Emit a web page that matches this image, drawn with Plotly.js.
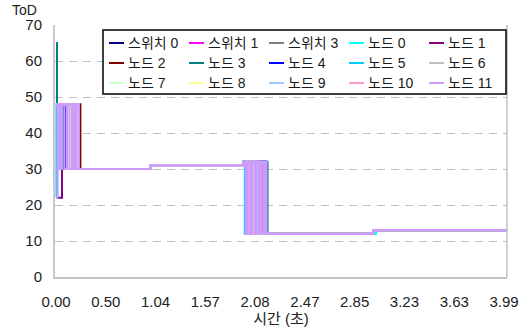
<!DOCTYPE html>
<html>
<head>
<meta charset="utf-8">
<script src="https://cdn.plot.ly/plotly-3.0.1.min.js"></script>
<style>html,body{margin:0;padding:0;background:#fff;}#chart{width:527px;height:330px;}</style>
</head>
<body>
<div id="chart"></div>
<script>
// Category positions on the x axis and their time labels (seconds)
const tickPos  = [0, 1, 2, 3, 4, 5, 6, 7, 8, 9];
const tickText = ['0.00', '0.50', '1.04', '1.57', '2.08', '2.47', '2.85', '3.23', '3.63', '3.99'];

const seriesNames  = ['스위치 0', '스위치 1', '스위치 3', '노드 0', '노드 1', '노드 2', '노드 3', '노드 4',
                      '노드 5', '노드 6', '노드 7', '노드 8', '노드 9', '노드 10', '노드 11'];
const seriesColors = ['#000080', '#FF00FF', '#808080', '#00FFFF', '#800080', '#800000', '#008080', '#0000FF',
                      '#00CCFF', '#C0C0C0', '#CCFFCC', '#FFFF99', '#99CCFF', '#FF99CC', '#CC99FF'];

// ToD change points per series (x = category position, value holds until next point)
const x_sw0 = [0, 0.02, 0.11, 0.14, 0.22, 0.25, 0.31, 1.89, 3.77, 3.93, 3.97, 4.10, 4.13, 4.21, 6.37, 9.06];
const y_sw0 = [24, 48, 30, 48, 30, 48, 30, 31, 32, 12, 32, 12, 32, 12, 13, 13];
const x_sw1 = [0, 0.16, 0.19, 0.27, 1.89, 3.77, 3.87, 3.90, 4.05, 6.37, 9.06];
const y_sw1 = [48, 30, 48, 30, 31, 32, 12, 32, 12, 13, 13];
const x_sw3 = [0, 0.07, 0.10, 0.19, 0.22, 0.33, 1.89, 3.78, 3.81, 3.84, 3.95, 3.98, 4.12, 4.15, 4.19, 6.37, 9.06];
const y_sw3 = [48, 30, 48, 30, 48, 30, 31, 32, 12, 32, 12, 32, 12, 32, 12, 13, 13];
const x_n0  = [0, 0.03, 0.27, 0.30, 0.36, 1.89, 3.76, 3.79, 3.82, 4.01, 6.43, 9.06];
const y_n0  = [22, 48, 30, 48, 30, 31, 32, 12, 32, 12, 13, 13];
const x_n1  = [0, 0.12, 0.21, 0.24, 0.28, 1.89, 3.77, 3.91, 3.94, 4.09, 6.37, 9.06];
const y_n1  = [22, 48, 30, 48, 30, 31, 32, 12, 32, 12, 13, 13];
const x_n2  = [0, 0.18, 0.21, 0.40, 0.44, 0.49, 1.89, 3.78, 4.00, 4.03, 4.14, 6.37, 9.06];
const y_n2  = [48, 30, 48, 30, 48, 30, 31, 32, 12, 32, 12, 13, 13];
const x_n3  = [0, 0.02, 0.13, 0.15, 0.34, 0.36, 0.42, 1.89, 3.78, 4.07, 4.10, 4.25, 6.37, 9.06];
const y_n3  = [65, 48, 30, 48, 30, 48, 30, 31, 32, 12, 32, 12, 13, 13];
const x_n4  = [0, 0.20, 0.23, 0.26, 0.29, 0.32, 1.89, 3.78, 3.88, 3.91, 4.02, 4.05, 4.22, 6.37, 9.06];
const y_n4  = [48, 30, 48, 30, 48, 30, 31, 32, 12, 32, 12, 32, 12, 13, 13];
const x_n5  = [0, 0.01, 0.05, 0.08, 0.29, 1.89, 3.77, 3.80, 3.84, 3.99, 6.37, 9.06];
const y_n5  = [22, 48, 30, 48, 30, 31, 32, 12, 32, 12, 13, 13];
const x_n6  = [0, 0.09, 0.12, 0.38, 1.89, 3.78, 3.96, 3.99, 4.11, 6.37, 9.06];
const y_n6  = [48, 30, 48, 30, 31, 32, 12, 32, 12, 13, 13];
const x_n7  = [0, 0.25, 0.28, 0.45, 1.89, 3.79, 3.86, 3.89, 4.02, 6.37, 9.06];
const y_n7  = [48, 30, 48, 30, 31, 32, 12, 32, 12, 13, 13];
const x_n8  = [0, 0.31, 0.34, 0.43, 1.89, 3.79, 3.92, 3.95, 4.06, 6.37, 9.06];
const y_n8  = [48, 30, 48, 30, 31, 32, 12, 32, 12, 13, 13];
const x_n9  = [0, 0.06, 0.09, 0.39, 1.89, 3.78, 4.04, 4.07, 4.17, 6.37, 9.06];
const y_n9  = [48, 30, 48, 30, 31, 32, 12, 32, 12, 13, 13];
const x_n10 = [0, 0.33, 0.36, 0.41, 1.89, 3.79, 3.83, 3.86, 4.13, 6.37, 9.06];
const y_n10 = [48, 30, 48, 30, 31, 32, 12, 32, 12, 13, 13];
const x_n11 = [0, 0.03, 0.08, 0.12, 0.17, 0.22, 0.27, 0.32, 0.37, 0.41, 0.46,
               1.89, 3.76, 3.81, 3.85, 3.90, 3.94, 3.99, 4.03, 4.08, 4.12, 4.17, 4.20, 4.23,
               6.37, 9.06];
const y_n11 = [22, 48, 30, 48, 30, 48, 30, 48, 30, 48, 30,
               31, 32, 12, 32, 12, 32, 12, 32, 12, 32, 12, 32, 12,
               13, 13];
</script>
<script>
const FONT = 'Liberation Sans, Noto Sans CJK KR, sans-serif';
const xsAll = [x_sw0, x_sw1, x_sw3, x_n0, x_n1, x_n2, x_n3, x_n4, x_n5, x_n6, x_n7, x_n8, x_n9, x_n10, x_n11];
const ysAll = [y_sw0, y_sw1, y_sw3, y_n0, y_n1, y_n2, y_n3, y_n4, y_n5, y_n6, y_n7, y_n8, y_n9, y_n10, y_n11];
const traces = seriesNames.map((n, i) => ({
  type: 'scatter', mode: 'lines', name: n,
  x: xsAll[i], y: ysAll[i],
  line: {color: seriesColors[i], width: 2, shape: 'hv'},
  showlegend: false
}));

// Excel-style legend: box, line samples and labels, 5 columns x 3 rows
const shapes = [
  {type: 'line', xref: 'paper', yref: 'paper', x0: 1, x1: 1, y0: 0, y1: 1,
   line: {color: '#C0C0C0', width: 1.5}},
  {type: 'rect', xref: 'paper', yref: 'paper', layer: 'above',
   x0: (103 - 55) / 452, x1: (506 - 55) / 452, y0: 1 - (94 - 25) / 252, y1: 1 - (30 - 25) / 252,
   fillcolor: '#FFFFFF', line: {color: '#000000', width: 1.5}}
];
const annotations = [
  {text: 'ToD', xref: 'paper', yref: 'paper', x: (25 - 55) / 452, y: 1 + (25 - 10) / 252,
   xanchor: 'center', yanchor: 'middle', showarrow: false, font: {family: FONT, size: 14, color: '#222'}}
];
seriesNames.forEach((n, i) => {
  const col = i % 5, row = Math.floor(i / 5);
  const yPx = 43 + row * 20;
  const yp = 1 - (yPx - 25) / 252;
  shapes.push({type: 'line', xref: 'paper', yref: 'paper', layer: 'above',
    x0: (109 + col * 80 - 55) / 452, x1: (124 + col * 80 - 55) / 452, y0: yp, y1: yp,
    line: {color: seriesColors[i], width: 2}});
  annotations.push({text: n, xref: 'paper', yref: 'paper', x: (126 + col * 80 - 55) / 452, y: yp,
    xanchor: 'left', yanchor: 'middle', showarrow: false,
    font: {family: FONT, size: 14, color: '#1a1a1a'}});
});

const layout = {
  width: 527, height: 330,
  margin: {l: 55, r: 20, t: 25, b: 53},
  paper_bgcolor: '#FFFFFF', plot_bgcolor: '#FFFFFF',
  font: {family: FONT, size: 15, color: '#222'},
  showlegend: false,
  xaxis: {
    range: [-0.02, 9.06], tickmode: 'array', tickvals: tickPos, ticktext: tickText,
    showgrid: false, zeroline: false, showline: true, linecolor: '#C4C4C4', linewidth: 1.5,
    ticks: '', ticklabelstandoff: 10, tickfont: {family: FONT, size: 15, color: '#222'},
    title: {text: '시간 (초)', font: {family: FONT, size: 15, color: '#222'}, standoff: 3}
  },
  yaxis: {
    range: [0, 70], dtick: 10, tick0: 0,
    showgrid: true, gridcolor: '#C0C0C0', gridwidth: 1, griddash: '8px,6px',
    zeroline: false, showline: true, linecolor: '#C8C8C8', linewidth: 2,
    ticks: '', ticklabelstandoff: 8, tickfont: {family: FONT, size: 15, color: '#222'}
  },
  shapes: shapes,
  annotations: annotations
};

Plotly.newPlot('chart', traces, layout, {staticPlot: true, displayModeBar: false});
</script>
</body>
</html>
